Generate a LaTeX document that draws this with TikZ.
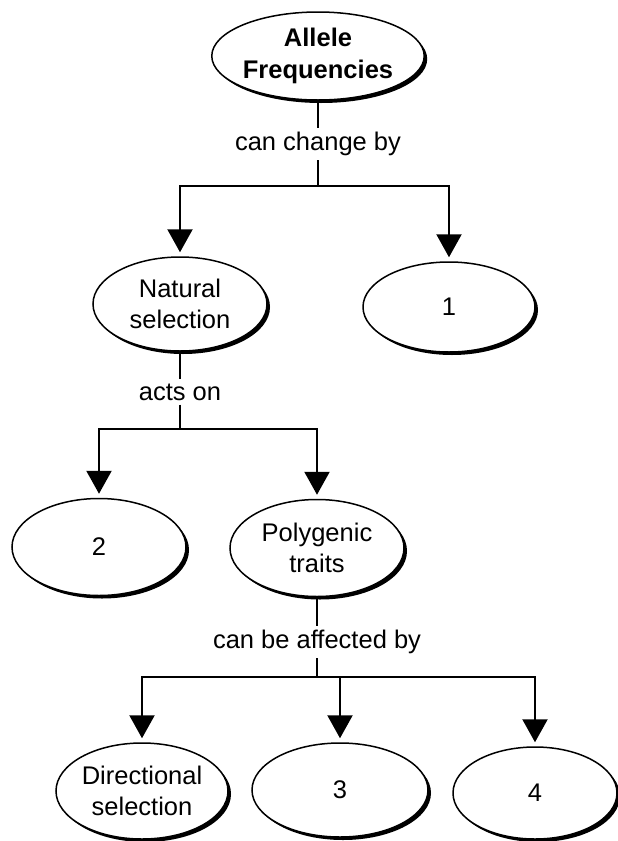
\documentclass[tikz,border=0pt]{standalone}
\usepackage{fontspec}
\setmainfont{Liberation Sans}
\usetikzlibrary{shapes.geometric,arrows.meta,shadows}
\begin{document}
\begin{tikzpicture}[x=1pt,y=-1pt,
 concept/.style={ellipse, draw, line width=1.5pt, fill=white, inner sep=0pt, align=center,
   font=\fontsize{25.5}{31}\selectfont,
   drop shadow={shadow xshift=3pt, shadow yshift=-3pt, fill=black, opacity=1}},
 lbl/.style={font=\fontsize{25.5}{30}\selectfont, inner sep=4pt},
 conn/.style={line width=2.2pt},
 arr/.style={conn, -{Triangle[width=25pt,length=23pt]}, shorten >=4pt}]
\useasboundingbox (0,0) rectangle (618,841);

% concepts
\node[concept, font=\bfseries\fontsize{25.5}{32}\selectfont, minimum width=202pt, minimum height=88pt] (af) at (318,56) {Allele\\Frequencies};
\node[concept, minimum width=174pt, minimum height=94pt] (ns) at (180,304) {Natural\\selection};
\node[concept, minimum width=172pt, minimum height=90pt] (c1) at (449,307) {1};
\node[concept, minimum width=174pt, minimum height=97pt] (c2) at (99,547) {2};
\node[concept, minimum width=174pt, minimum height=97pt] (pt) at (317,548) {Polygenic\\traits};
\node[concept, minimum width=172pt, minimum height=96pt] (ds) at (142,791) {Directional\\selection};
\node[concept, minimum width=176pt, minimum height=94pt] (c3) at (340,790) {3};
\node[concept, minimum width=164pt, minimum height=92pt] (c4) at (535,793) {4};

% labels
\node[lbl] (l1) at (318,144) {can change by};
\node[lbl] (l2) at (180,392) {acts on};
\node[lbl] (l3) at (317,642) {can be affected by};

% junctions
\coordinate (j1) at (318,186);
\coordinate (j2) at (180,429);
\coordinate (j3) at (317,677);
\coordinate (j3m) at (340,677);

% connectors
\draw[conn] (af.south) -- (l1.north);
\draw[conn] (l1.south) -- (j1);
\draw[arr] (j1) -| (ns.north);
\draw[arr] (j1) -| (c1.north);

\draw[conn] (ns.south) -- (l2.north);
\draw[conn] (l2.south) -- (j2);
\draw[arr] (j2) -| (c2.north);
\draw[arr] (j2) -| (pt.north);

\draw[conn] (pt.south) -- (l3.north);
\draw[conn] (l3.south) -- (j3);
\draw[arr] (j3) -| (ds.north);
\draw[arr] (j3) -| (c4.north);
\draw[arr] (j3m) -- (c3.north);
\end{tikzpicture}
\end{document}
